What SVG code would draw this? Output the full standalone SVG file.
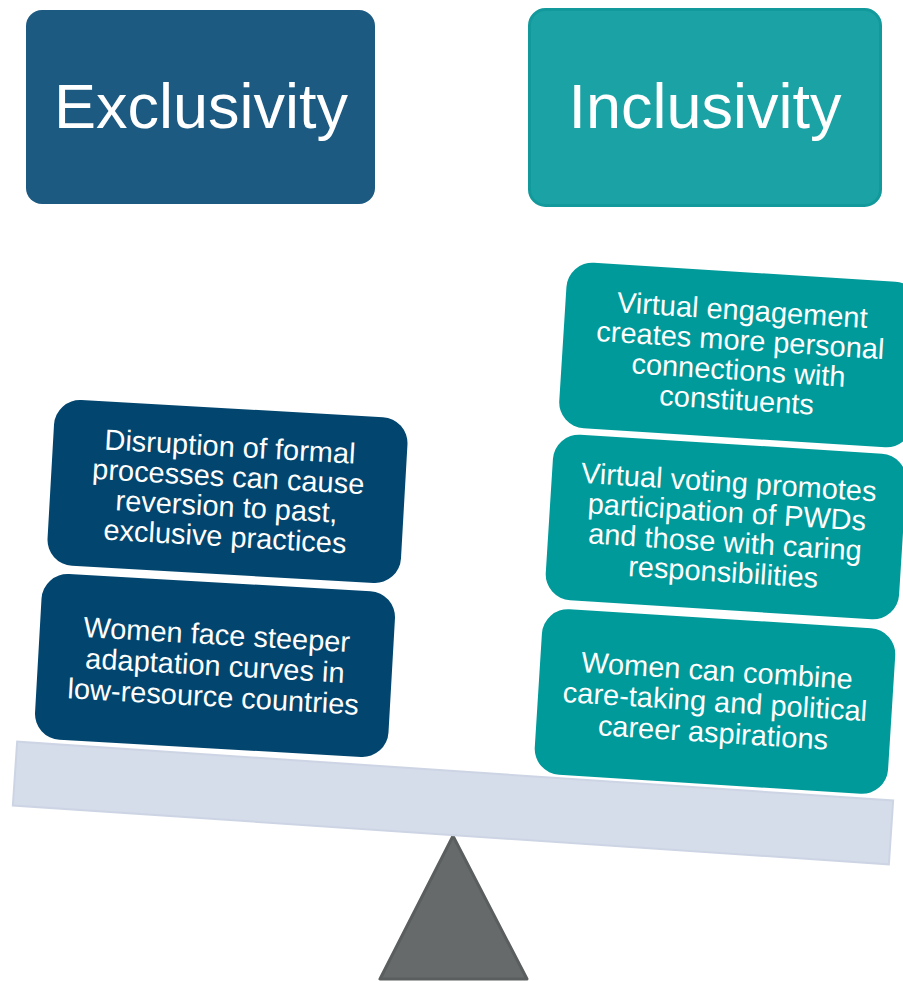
<svg xmlns="http://www.w3.org/2000/svg" width="903" height="981" viewBox="0 0 903 981">
  <style>
    .hdr { font-family: "Liberation Sans", Arial, sans-serif; font-size: 63px; fill: #ffffff; text-anchor: middle; }
    .txt { font-family: "Liberation Sans", Arial, sans-serif; font-size: 29px; fill: #ffffff; text-anchor: middle; }
    .navy { fill: #02466f; }
    .teal { fill: #009a9a; }
  </style>
  <rect width="903" height="981" fill="#ffffff"/>
  <g id="header-exclusivity">
    <rect x="26" y="10" width="349" height="194" rx="16" fill="#1c5a82"/>
    <text class="hdr" x="201" y="128">Exclusivity</text>
  </g>
  <g id="header-inclusivity">
    <rect x="529.5" y="9.5" width="351" height="196" rx="16" fill="#1ba2a4" stroke="#12999b" stroke-width="3"/>
    <text class="hdr" x="705" y="128">Inclusivity</text>
  </g>
  <g id="fulcrum">
    <polygon points="453,836 380,979 527,979" fill="#676a6a" stroke="#5a5e5e" stroke-width="3" stroke-linejoin="round"/>
  </g>
  <g id="beam">
    <rect x="-439" y="-32" width="878" height="64" transform="translate(453,803) rotate(3.85)" fill="#d5dcea" stroke="#cdd5e5" stroke-width="2"/>
  </g>
  <g id="ex-disruption" transform="translate(227.5,491.5) rotate(3.25)">
    <rect class="navy" x="-177" y="-83" width="354" height="166" rx="26"/>
    <text class="txt" x="0" y="-35">Disruption of formal</text>
    <text class="txt" x="0" y="-5">processes can cause</text>
    <text class="txt" x="0" y="25">reversion to past,</text>
    <text class="txt" x="0" y="55">exclusive practices</text>
  </g>
  <g id="ex-women" transform="translate(215,665.5) rotate(3.25)">
    <rect class="navy" x="-177" y="-83" width="354" height="166" rx="26"/>
    <text class="txt" x="0" y="-21">Women face steeper</text>
    <text class="txt" x="0" y="10">adaptation curves in</text>
    <text class="txt" x="0" y="41">low-resource countries</text>
  </g>
  <g id="in-engagement" transform="translate(739.5,355) rotate(3.6)">
    <rect class="teal" x="-177" y="-83" width="354" height="166" rx="26"/>
    <text class="txt" x="0" y="-35">Virtual engagement</text>
    <text class="txt" x="0" y="-5">creates more personal</text>
    <text class="txt" x="0" y="25">connections with</text>
    <text class="txt" x="0" y="55">constituents</text>
  </g>
  <g id="in-voting" transform="translate(726,527) rotate(3.6)">
    <rect class="teal" x="-177" y="-83" width="354" height="166" rx="26"/>
    <text class="txt" x="0" y="-35">Virtual voting promotes</text>
    <text class="txt" x="0" y="-5">participation of PWDs</text>
    <text class="txt" x="0" y="25">and those with caring</text>
    <text class="txt" x="0" y="55">responsibilities</text>
  </g>
  <g id="in-women" transform="translate(715,701.5) rotate(3.6)">
    <rect class="teal" x="-177" y="-83" width="354" height="166" rx="26"/>
    <text class="txt" x="0" y="-21">Women can combine</text>
    <text class="txt" x="0" y="10">care-taking and political</text>
    <text class="txt" x="0" y="41">career aspirations</text>
  </g>
</svg>
